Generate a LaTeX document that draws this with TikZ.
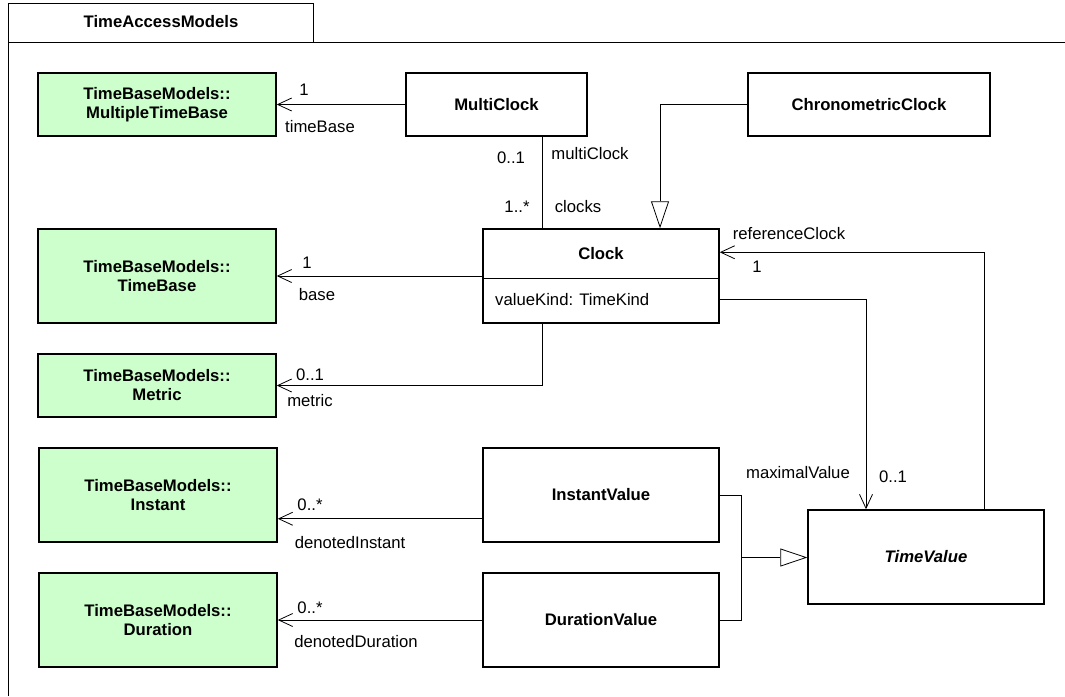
\documentclass[tikz,border=0pt]{standalone}
\usepackage{fontspec}
\setmainfont{Liberation Sans}
\usetikzlibrary{arrows.meta,calc}
\definecolor{tbgreen}{RGB}{204,255,204}
\begin{document}
\begin{tikzpicture}[x=1pt,y=-1pt,
  box/.style={draw,line width=1.5pt,inner sep=0pt,align=center,
    font=\fontsize{16.7}{19}\selectfont\bfseries},
  gbox/.style={box,fill=tbgreen,minimum width=238pt},
  wbox/.style={box,fill=white,minimum width=236pt,minimum height=94pt},
  ttl/.style={font=\fontsize{16.7}{19}\selectfont\bfseries,inner sep=0pt},
  lbl/.style={font=\fontsize{16.7}{19}\selectfont,inner sep=0pt},
  conn/.style={line width=0.8pt},
  assoc/.style={conn,-{Straight Barb[length=14pt,width=13pt,line width=0.8pt]}},
  gen/.style={conn,-{Triangle[open,fill=white,length=27pt,width=18pt,line width=0.8pt]}},
]
\useasboundingbox (0,0) rectangle (1065,696);

% package frame
\draw[line width=1pt] (8,696) -- (8,3) -- (313,3) -- (313,42);
\draw[line width=1pt] (8,42) -- (1065,42);
\node[ttl] (pkg) at (161,22) {TimeAccessModels};

% green boxes
\node[gbox,minimum height=63pt] (mtb) at (157,104.5) {TimeBaseModels::\\MultipleTimeBase};
\node[gbox,minimum height=94pt] (tb) at (157,276) {TimeBaseModels::\\TimeBase};
\node[gbox,minimum height=63pt] (met) at (157,385.5) {TimeBaseModels::\\Metric};
\node[gbox,minimum height=94pt] (inst) at (158,495) {TimeBaseModels::\\Instant};
\node[gbox,minimum height=94pt] (dur) at (158,620) {TimeBaseModels::\\Duration};

% white classes
\node[box,minimum width=181pt,minimum height=63pt] (mclk) at (496.5,104.5) {MultiClock};
\node[box,minimum width=242pt,minimum height=63pt] (chr) at (869,104.5) {ChronometricClock};
\node[wbox] (clock) at (601,276) {};
\draw[line width=1.5pt] ([yshift=-50pt]clock.north west) -- ([yshift=-50pt]clock.north east);
\node[ttl] (clockname) at (601,254) {Clock};
\node[lbl,anchor=west] (vk) at (495,300) {valueKind: TimeKind};
\node[wbox] (iv) at (601,495) {InstantValue};
\node[wbox] (dv) at (601,620) {DurationValue};
\node[wbox,font=\fontsize{16.7}{19}\selectfont\bfseries\itshape] (tv) at (926,557) {TimeValue};

% associations
\draw[assoc] (mclk.west) -- (mtb.east);
\node[lbl] (l1) at (304,90) {1};
\node[lbl] (l2) at (320,127) {timeBase};

\draw[conn] ([xshift=45.5pt]mclk.south) -- ([xshift=45.5pt]mclk.south |- clock.north);
\node[lbl] (l3) at (511,158) {0..1};
\node[lbl] (l4) at (590,154) {multiClock};
\node[lbl] (l5) at (517,207) {1..*};
\node[lbl] (l6) at (578,207) {clocks};

\draw[gen] (chr.west) -| ([xshift=59pt]clock.north);

\draw[assoc] (clock.west |- tb.east) -- (tb.east);
\node[lbl] (l7) at (307,263) {1};
\node[lbl] (l8) at (317,295) {base};

\draw[assoc] ([xshift=-59pt]clock.south) |- (met.east);
\node[lbl] (l9) at (310,375) {0..1};
\node[lbl] (l10) at (310,401) {metric};

\draw[assoc] ([xshift=58pt]tv.north) |- ([yshift=-24pt]clock.north east);
\node[lbl] (l11) at (789,234) {referenceClock};
\node[lbl] (l12) at (757,267) {1};

\draw[assoc] ([yshift=24pt]clock.south east) -| ([xshift=-60pt]tv.north);
\node[lbl] (l13) at (798,473) {maximalValue};
\node[lbl] (l14) at (893,477) {0..1};

\draw[assoc] ([yshift=24pt]iv.south west) -- ([yshift=24pt]inst.south east);
\node[lbl] (l15) at (310,505) {0..*};
\node[lbl] (l16) at (350,543) {denotedInstant};

\draw[assoc] (dv.west) -- (dur.east);
\node[lbl] (l17) at (310,608) {0..*};
\node[lbl] (l18) at (356,642) {denotedDuration};

% generalization of values
\coordinate (j) at ($($(iv.east)!0.5!(dv.east)$)+(22,0)$);
\draw[conn] (iv.east) -| (j) |- (dv.east);
\draw[gen] (j) -- (j -| tv.west);
\end{tikzpicture}
\end{document}
